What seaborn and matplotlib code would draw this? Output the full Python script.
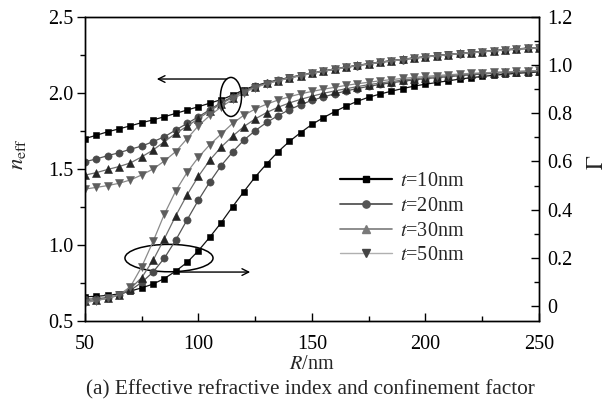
import matplotlib
matplotlib.use("Agg")
import matplotlib.pyplot as plt
from matplotlib.patches import Ellipse
from matplotlib.lines import Line2D
from matplotlib.ticker import MultipleLocator, FixedLocator
import seaborn as sns

# ---------------- data ----------------
R = [50, 55, 60, 65, 70, 75, 80, 85, 90, 95, 100, 105, 110, 115, 120, 125, 130, 135, 140, 145,
     150, 155, 160, 165, 170, 175, 180, 185, 190, 195, 200, 205, 210, 215, 220, 225, 230, 235, 240, 245, 250]

labels = ["t=10nm", "t=20nm", "t=30nm", "t=50nm"]

n10 = [1.700, 1.722, 1.745, 1.764, 1.784, 1.805, 1.823, 1.844, 1.866, 1.888, 1.910, 1.933, 1.957, 1.985, 2.022,
       2.048, 2.068, 2.086, 2.102, 2.117, 2.131, 2.145, 2.158, 2.170, 2.182, 2.193, 2.203, 2.213, 2.222, 2.231,
       2.239, 2.247, 2.254, 2.261, 2.267, 2.273, 2.279, 2.285, 2.290, 2.295, 2.300]
n20 = [1.548, 1.566, 1.588, 1.607, 1.630, 1.651, 1.680, 1.712, 1.757, 1.800, 1.844, 1.890, 1.938, 1.975, 2.015,
       2.043, 2.065, 2.084, 2.100, 2.115, 2.129, 2.143, 2.156, 2.168, 2.180, 2.191, 2.201, 2.211, 2.220, 2.229,
       2.237, 2.245, 2.252, 2.259, 2.265, 2.271, 2.277, 2.283, 2.288, 2.293, 2.298]
n30 = [1.460, 1.476, 1.497, 1.516, 1.540, 1.580, 1.625, 1.680, 1.735, 1.782, 1.832, 1.882, 1.930, 1.970, 2.010,
       2.040, 2.063, 2.082, 2.099, 2.115, 2.130, 2.144, 2.157, 2.169, 2.181, 2.192, 2.202, 2.212, 2.221, 2.230,
       2.238, 2.246, 2.253, 2.260, 2.266, 2.272, 2.278, 2.284, 2.289, 2.294, 2.299]
n50 = [1.368, 1.379, 1.391, 1.406, 1.428, 1.461, 1.500, 1.553, 1.615, 1.700, 1.785, 1.852, 1.908, 1.958, 2.002,
       2.036, 2.060, 2.080, 2.098, 2.114, 2.129, 2.143, 2.156, 2.168, 2.180, 2.191, 2.201, 2.211, 2.220, 2.229,
       2.237, 2.245, 2.252, 2.259, 2.265, 2.271, 2.277, 2.283, 2.288, 2.293, 2.298]

g10 = [0.038, 0.040, 0.044, 0.050, 0.062, 0.075, 0.091, 0.114, 0.145, 0.181, 0.230, 0.286, 0.346, 0.412, 0.475,
       0.536, 0.590, 0.640, 0.683, 0.720, 0.754, 0.782, 0.807, 0.830, 0.850, 0.867, 0.880, 0.892, 0.903, 0.913,
       0.921, 0.928, 0.935, 0.942, 0.948, 0.953, 0.958, 0.962, 0.966, 0.969, 0.972]
g20 = [0.028, 0.030, 0.035, 0.045, 0.065, 0.098, 0.141, 0.199, 0.274, 0.358, 0.440, 0.515, 0.583, 0.639, 0.689,
       0.728, 0.762, 0.790, 0.815, 0.836, 0.854, 0.868, 0.881, 0.893, 0.903, 0.912, 0.920, 0.927, 0.933, 0.939,
       0.944, 0.948, 0.952, 0.956, 0.960, 0.963, 0.966, 0.969, 0.971, 0.973, 0.975]
g30 = [0.022, 0.025, 0.031, 0.045, 0.072, 0.118, 0.190, 0.280, 0.375, 0.462, 0.539, 0.606, 0.660, 0.705, 0.745,
       0.777, 0.803, 0.825, 0.843, 0.858, 0.871, 0.883, 0.893, 0.902, 0.911, 0.919, 0.926, 0.932, 0.938, 0.943,
       0.948, 0.952, 0.956, 0.960, 0.963, 0.966, 0.969, 0.971, 0.973, 0.975, 0.977]
g50 = [0.014, 0.022, 0.032, 0.046, 0.080, 0.163, 0.268, 0.382, 0.478, 0.555, 0.618, 0.670, 0.714, 0.758, 0.792,
       0.818, 0.838, 0.855, 0.869, 0.881, 0.891, 0.900, 0.908, 0.916, 0.923, 0.929, 0.935, 0.940, 0.945, 0.949,
       0.953, 0.957, 0.960, 0.963, 0.966, 0.968, 0.970, 0.972, 0.974, 0.976, 0.978]

x_ticks = [50, 100, 150, 200, 250]
left_ticks = [0.5, 1.0, 1.5, 2.0, 2.5]
right_ticks = [0, 0.2, 0.4, 0.6, 0.8, 1.0, 1.2]
right_ticklabels = ["0", "0.2", "0.4", "0.6", "0.8", "1.0", "1.2"]

# ---------------- style ----------------
sns.set_theme(style="ticks")
plt.rcParams["font.family"] = ["Liberation Serif", "DejaVu Serif"]
plt.rcParams["mathtext.fontset"] = "stix"
plt.rcParams["axes.linewidth"] = 1.0
FS = 14.5

fig = plt.figure(figsize=(6.10, 4.01), dpi=100)
ax = fig.add_axes([85 / 610, 1 - 321 / 401, (539 - 85) / 610, (321 - 17) / 401])
ax2 = ax.twinx()

styles = [
    dict(marker="s", ms=4.6, line="#111111", mfc="#000000"),
    dict(marker="o", ms=5.2, line="#555555", mfc="#4a4a4a"),
    dict(marker="^", ms=5.6, line="#6e6e6e", mfc="#262626"),
    dict(marker="v", ms=5.6, line="#8a8a8a", mfc="#5e5e5e"),
]
n_series = [n10, n20, n30, n50]
g_series = [g10, g20, g30, g50]

for n_vals, st in zip(n_series, styles):
    sns.lineplot(x=R, y=n_vals, ax=ax, color=st["line"], linewidth=0.9, marker=st["marker"],
                 markersize=st["ms"], markerfacecolor=st["mfc"], markeredgecolor=st["mfc"],
                 markeredgewidth=0.4, legend=False)
for g_vals, st in zip(g_series, styles):
    sns.lineplot(x=R, y=g_vals, ax=ax2, color=st["line"], linewidth=0.9, marker=st["marker"],
                 markersize=st["ms"], markerfacecolor=st["mfc"], markeredgecolor=st["mfc"],
                 markeredgewidth=0.4, legend=False)

ax.set_xlim(50, 250)
ax.set_ylim(0.5, 2.5)
ax2.set_ylim(-0.0625, 1.2)

ax.xaxis.set_major_locator(FixedLocator(x_ticks))
ax.xaxis.set_minor_locator(MultipleLocator(25))
ax.yaxis.set_major_locator(FixedLocator(left_ticks))
ax.yaxis.set_minor_locator(MultipleLocator(0.25))
ax.set_yticklabels([f"{v:.1f}" for v in left_ticks])
ax2.yaxis.set_major_locator(FixedLocator(right_ticks))
ax2.set_yticklabels(right_ticklabels)
ax2.yaxis.set_minor_locator(MultipleLocator(0.1))

ax.tick_params(axis="x", which="both", direction="in", top=False, labelsize=FS, pad=10, color="black")
ax.tick_params(axis="x", which="major", length=5.5, width=1.0)
ax.tick_params(axis="x", which="minor", length=3.5, width=1.0)
ax.tick_params(axis="y", which="both", direction="out", right=False, labelsize=FS, pad=3, color="black")
ax.tick_params(axis="y", which="major", length=5.5, width=1.0)
ax.tick_params(axis="y", which="minor", length=3.5, width=1.0)
ax2.tick_params(axis="y", which="both", direction="in", labelsize=FS, pad=6, color="black")
ax2.tick_params(axis="y", which="major", length=5.5, width=1.0)
ax2.tick_params(axis="y", which="minor", length=3.5, width=1.0)
for a in (ax, ax2):
    for s in a.spines.values():
        s.set_color("black")
        s.set_linewidth(1.0)
        s.set_visible(True)
    for lab in a.get_xticklabels() + a.get_yticklabels():
        lab.set_color("black")

ax.set_xlabel("$R$/nm", fontsize=FS, labelpad=1)
ax.set_ylabel(r"$n_{\mathrm{eff}}$", fontsize=FS + 2)
ax.yaxis.set_label_coords(-0.125, 0.55)
ax2.set_ylabel(r"$\mathit{\Gamma}$", fontsize=FS + 2, rotation=90)
ax2.yaxis.set_label_coords(1.105, 0.52)

# annotations (ellipses + arrows), in left-axis data coords
ax.add_patch(Ellipse((114.3, 1.974), 9.3, 0.257, fill=False, edgecolor="black", linewidth=1.1, zorder=5))
ax.annotate("", xy=(80.4, 2.092), xytext=(113.6, 2.092),
            arrowprops=dict(arrowstyle="->", color="black", lw=1.0, mutation_scale=12), zorder=5)
ax.add_patch(Ellipse((87.0, 0.914), 38.8, 0.18, fill=False, edgecolor="black", linewidth=1.1, zorder=5))
ax.annotate("", xy=(124.0, 0.822), xytext=(88.0, 0.822),
            arrowprops=dict(arrowstyle="->", color="black", lw=1.0, mutation_scale=12), zorder=5)

# legend
leg_styles = [
    dict(marker="s", ms=4.6, line="#000000", mfc="#000000", lw=1.6),
    dict(marker="o", ms=5.2, line="#555555", mfc="#555555", lw=1.3),
    dict(marker="^", ms=5.6, line="#7a7a7a", mfc="#7a7a7a", lw=1.2),
    dict(marker="v", ms=5.6, line="#b0b0b0", mfc="#444444", lw=1.0),
]
handles = [Line2D([], [], color=s["line"], lw=s["lw"], marker=s["marker"], markersize=s["ms"],
                  markerfacecolor=s["mfc"], markeredgecolor=s["mfc"]) for s in leg_styles]
leg_labels = ["$t$=" + l[2:] for l in labels]
ax2.legend(handles, leg_labels, loc="upper left", bbox_to_anchor=((340 - 85) / 454, (321 - 172) / 304),
           frameon=False, fontsize=FS, handlelength=2.6, handletextpad=0.4, labelspacing=0.28,
           borderpad=0, borderaxespad=0)

fig.text(0.508, 1 - 390 / 401, "(a) Effective refractive index and confinement factor",
         ha="center", va="center", fontsize=FS + 0.8)

fig.savefig("out.png", dpi=100)
